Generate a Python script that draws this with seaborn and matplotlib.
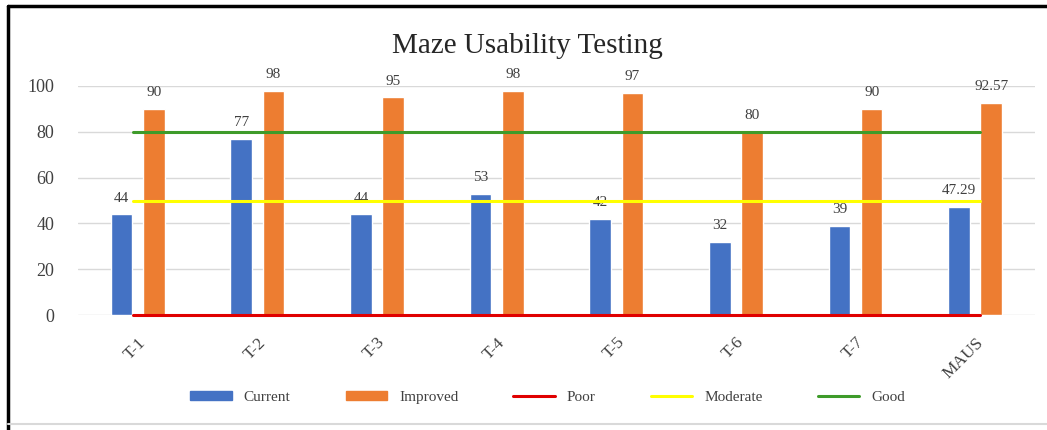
import numpy as np
import pandas as pd
import matplotlib.pyplot as plt
import seaborn as sns
from matplotlib.lines import Line2D
from matplotlib.patches import Patch

# dati
categorie = ["T-1", "T-2", "T-3", "T-4", "T-5", "T-6", "T-7", "MAUS"]
current = [44, 77, 44, 53, 42, 32, 39, 47.29]
improved = [90, 98, 95, 98, 97, 80, 90, 92.57]
soglie_nomi = ["Poor", "Moderate", "Good"]
soglie_valori = [0, 50, 80]

col_bar = ["#4472C4", "#ED7D31"]
col_soglie = ["#E00000", "#FFFF00", "#3E9B2A"]

sns.set_theme(style="white")
plt.rcParams["font.family"] = ["Liberation Serif", "DejaVu Serif"]
plt.rcParams["text.color"] = "#404040"

df = pd.DataFrame({
    "cat": categorie * 2,
    "valore": current + improved,
    "serie": ["Current"] * len(categorie) + ["Improved"] * len(categorie),
})

fig = plt.figure(figsize=(10.47, 4.30), dpi=100)
ax = fig.add_axes([0.0745, 0.2674, 0.914, 0.5326])

sns.barplot(data=df, x="cat", y="valore", hue="serie", palette=col_bar,
            width=0.54, gap=0.33, ax=ax, legend=False, saturation=1)

for cont in ax.containers:
    ax.bar_label(cont, labels=[f"{v:g}" for v in cont.datavalues],
                 padding=7, fontsize=11, color="#404040", clip_on=False)

xs = np.arange(len(categorie))
for nome, val, c in zip(soglie_nomi, soglie_valori, col_soglie):
    ax.plot([xs[0] - 0.04, xs[-1] + 0.04], [val, val], color=c, linewidth=2.2,
            zorder=5, clip_on=False)

ax.set_ylim(0, 100)
ax.set_xlim(-0.5, len(categorie) - 0.5)
ax.set_yticks(range(0, 101, 20))
ax.yaxis.grid(True, color="#D9D9D9", linewidth=1)
ax.set_axisbelow(True)
for s in ax.spines.values():
    s.set_visible(False)
ax.tick_params(axis="y", labelsize=13, labelcolor="#404040", pad=17, length=0)
ax.tick_params(axis="x", labelsize=12.5, labelcolor="#404040", length=0, pad=14)
plt.setp(ax.get_xticklabels(), rotation=45, ha="right", rotation_mode="anchor")
for lab in ax.get_xticklabels():
    lab.set_x(lab.get_position()[0])
ax.set_xlabel("")
ax.set_ylabel("")

fig.text(0.504, 0.893, "Maze Usability Testing", ha="center", va="center",
         fontsize=21, color="#262626")

handles = [Patch(color=col_bar[0]), Patch(color=col_bar[1])] + \
          [Line2D([0], [0], color=c, linewidth=2.2) for c in col_soglie]
fig.legend(handles, ["Current", "Improved"] + soglie_nomi, loc="center",
           bbox_to_anchor=(0.523, 0.075), ncol=5, frameon=False, fontsize=11,
           handlelength=2.7, handleheight=0.5, columnspacing=3.6, handletextpad=0.8)

# cornice
fig.add_artist(Line2D([8 / 1047, 8 / 1047], [0, 1 - 6 / 430], color="black", linewidth=2.5,
                      transform=fig.transFigure))
fig.add_artist(Line2D([8 / 1047, 1], [1 - 6 / 430, 1 - 6 / 430], color="black", linewidth=2.5,
                      transform=fig.transFigure))
fig.add_artist(Line2D([8 / 1047, 1], [1 - 424 / 430, 1 - 424 / 430], color="#D9D9D9", linewidth=1.5,
                      transform=fig.transFigure))

plt.savefig("out.png", dpi=100)
plt.close()
